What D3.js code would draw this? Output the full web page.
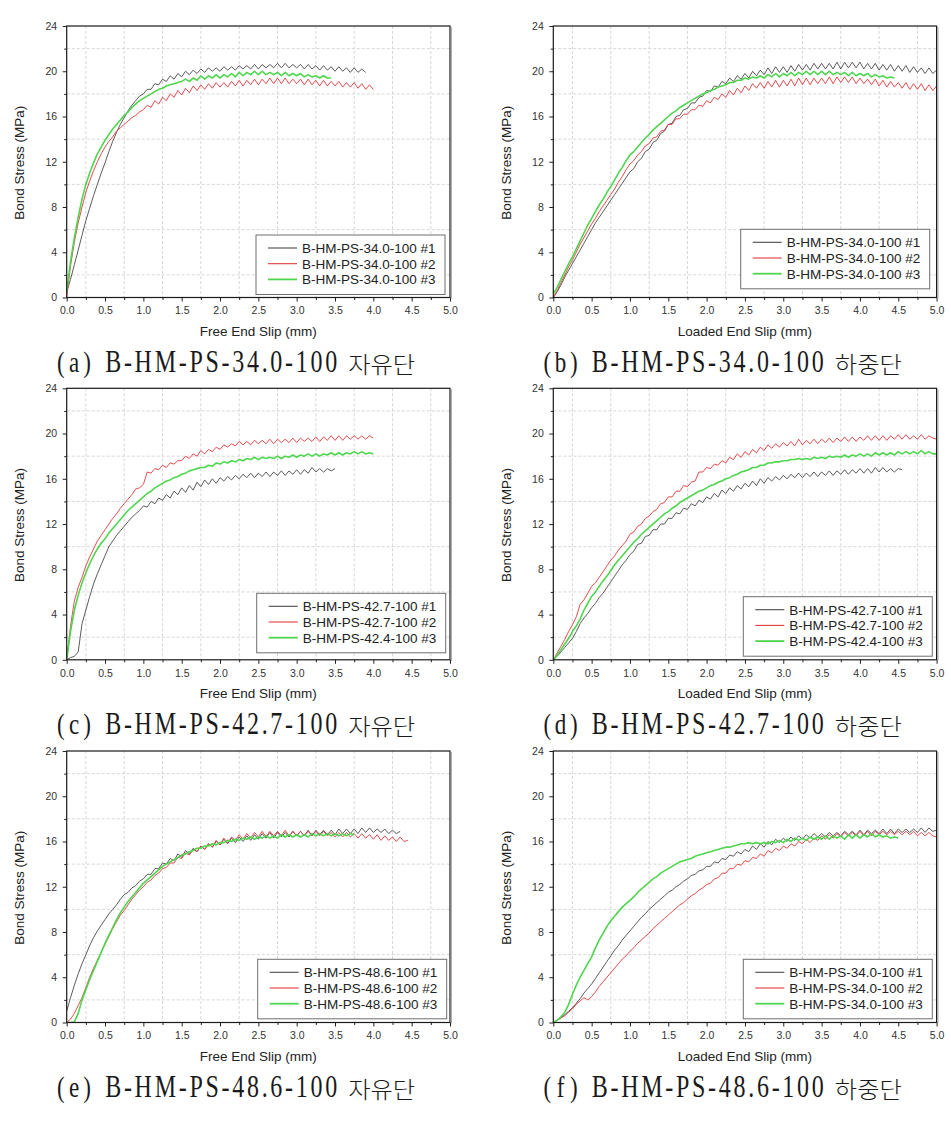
<!DOCTYPE html>
<html><head><meta charset="utf-8">
<script src="https://cdn.jsdelivr.net/npm/d3@7"></script>
<style>body{margin:0;background:#fff}svg{display:block}</style>
</head><body><svg id="c" width="951" height="1122"></svg>
<script>
const STEP = 0.05;
const xMajor = [0,0.5,1,1.5,2,2.5,3,3.5,4,4.5,5];
const xMinor = [0.25,0.75,1.25,1.75,2.25,2.75,3.25,3.75,4.25,4.75];
const yMajor = [0,4,8,12,16,20,24];
const yMinor = [2,6,10,14,18,22];
const legend340 = ["B-HM-PS-34.0-100 #1","B-HM-PS-34.0-100 #2","B-HM-PS-34.0-100 #3"];
const legend427 = ["B-HM-PS-42.7-100 #1","B-HM-PS-42.7-100 #2","B-HM-PS-42.4-100 #3"];
const legend486 = ["B-HM-PS-48.6-100 #1","B-HM-PS-48.6-100 #2","B-HM-PS-48.6-100 #3"];

// (a) free end 34.0
const sa1 = [0.5,1.6,2.9,4.2,5.5,6.8,7.9,9.0,10.0,11.0,11.9,12.9,13.8,14.6,15.3,15.9,16.5,17.0,17.4,17.8,18.0,18.4,18.4,18.9,18.8,19.3,19.1,19.6,19.3,19.8,19.5,20.0,19.7,20.1,19.8,20.2,19.9,20.3,20.0,20.3,20.0,20.4,20.1,20.4,20.1,20.5,20.2,20.5,20.2,20.6,20.2,20.6,20.3,20.6,20.3,20.7,20.3,20.7,20.3,20.6,20.3,20.6,20.2,20.6,20.2,20.5,20.1,20.5,20.1,20.4,20.0,20.4,20.0,20.3,19.9,20.3,19.9,20.2,19.9];
const sa2 = [0,2.8,4.9,6.6,8.0,9.3,10.3,11.2,12.0,12.7,13.3,13.8,14.2,14.7,15.0,15.3,15.6,15.9,16.1,16.4,16.6,17.0,16.8,17.4,17.1,17.7,17.4,18.0,17.7,18.3,17.9,18.5,18.1,18.7,18.3,18.8,18.4,18.9,18.5,19.0,18.6,19.0,18.6,19.1,18.7,19.2,18.7,19.2,18.8,19.3,18.8,19.3,18.9,19.4,18.9,19.4,18.9,19.4,18.9,19.3,18.9,19.3,18.8,19.3,18.8,19.2,18.7,19.2,18.7,19.1,18.7,19.1,18.6,19.0,18.6,19.0,18.5,18.9,18.4,18.8,18.4];
const sa3 = [0.5,3.2,5.3,7.1,8.7,10.0,11.0,11.9,12.7,13.3,13.9,14.4,14.9,15.3,15.7,16.1,16.4,16.8,17.1,17.4,17.6,17.8,18.0,18.2,18.4,18.5,18.7,18.8,18.9,19.0,19.1,19.3,19.1,19.4,19.2,19.6,19.3,19.6,19.4,19.7,19.4,19.7,19.5,19.8,19.5,19.9,19.6,19.9,19.7,20.0,19.7,20.0,19.7,19.9,19.7,19.9,19.6,19.9,19.6,19.8,19.6,19.8,19.5,19.7,19.5,19.6,19.4,19.6,19.4,19.4];
// (b) loaded end 34.0
const sb1 = [0,0.5,1.1,1.8,2.4,3.0,3.6,4.2,4.8,5.4,6.0,6.6,7.1,7.6,8.1,8.6,9.1,9.6,10.1,10.6,11.1,11.4,12.0,12.3,12.9,13.1,13.7,13.9,14.5,14.7,15.3,15.4,16.0,16.1,16.6,16.7,17.2,17.2,17.7,17.8,18.3,18.2,18.7,18.6,19.1,18.9,19.4,19.1,19.6,19.3,19.8,19.4,20.0,19.6,20.1,19.7,20.3,19.8,20.4,19.9,20.4,19.9,20.5,20.0,20.6,20.1,20.6,20.1,20.7,20.2,20.7,20.2,20.7,20.2,20.8,20.2,20.8,20.3,20.8,20.3,20.8,20.2,20.7,20.2,20.7,20.1,20.6,20.1,20.6,20.0,20.5,20.0,20.5,19.9,20.4,19.9,20.3,19.8,20.3,19.8,20.1];
const sb2 = [0,0.6,1.3,2.0,2.7,3.3,4.0,4.7,5.3,5.9,6.5,7.0,7.6,8.1,8.6,9.1,9.6,10.2,10.7,11.3,11.8,12.1,12.6,12.9,13.4,13.6,14.1,14.2,14.7,14.8,15.3,15.3,15.8,15.8,16.2,16.2,16.6,16.6,17.0,16.9,17.4,17.2,17.7,17.5,18.0,17.7,18.3,17.9,18.5,18.1,18.7,18.3,18.9,18.5,19.0,18.5,19.1,18.6,19.2,18.6,19.2,18.7,19.3,18.7,19.4,18.8,19.4,18.8,19.4,18.9,19.4,18.9,19.5,18.9,19.5,19.0,19.5,19.0,19.5,18.9,19.4,18.9,19.3,18.8,19.3,18.7,19.2,18.6,19.1,18.6,19.0,18.5,19.0,18.4,18.9,18.4,18.9,18.3,18.8,18.3,18.7];
const sb3 = [0.3,0.9,1.6,2.3,3.0,3.6,4.3,5.0,5.7,6.4,7.0,7.6,8.2,8.7,9.3,9.8,10.4,11.0,11.5,12.1,12.6,12.9,13.3,13.7,14.1,14.4,14.8,15.1,15.4,15.7,16.0,16.3,16.5,16.8,17.0,17.2,17.4,17.6,17.8,18.0,18.1,18.3,18.4,18.6,18.7,18.8,19.0,19.0,19.2,19.2,19.4,19.3,19.5,19.4,19.6,19.4,19.7,19.5,19.8,19.5,19.8,19.6,19.9,19.6,19.9,19.7,20.0,19.7,20.0,19.7,20.0,19.7,20.0,19.7,19.9,19.7,19.9,19.6,19.9,19.6,19.8,19.6,19.8,19.5,19.7,19.5,19.6,19.4,19.5,19.4];
// (c) free end 42.7
const sc1 = [0,0.2,0.3,0.7,3.2,4.4,5.6,6.7,7.6,8.4,9.2,10.0,10.5,11.0,11.4,11.8,12.2,12.6,12.9,13.2,13.6,13.5,14.0,13.8,14.3,14.1,14.6,14.3,14.9,14.6,15.2,14.8,15.4,15.0,15.7,15.3,15.9,15.5,16.0,15.6,16.1,15.8,16.2,15.9,16.3,16.0,16.4,16.1,16.5,16.1,16.5,16.2,16.6,16.2,16.6,16.3,16.7,16.3,16.7,16.4,16.8,16.4,16.8,16.5,17.0,16.6,16.9,16.6,16.9,16.7,16.9];
const sc2 = [0,3.0,5.2,6.4,7.3,8.3,9.1,9.8,10.5,11.0,11.5,12.0,12.5,12.9,13.4,13.8,14.2,14.6,15.1,15.2,15.5,16.6,16.5,16.9,16.8,17.2,17.0,17.4,17.3,17.6,17.6,18.0,17.8,18.2,18.0,18.5,18.2,18.6,18.4,18.8,18.6,19.0,18.8,19.1,18.9,19.3,19.0,19.3,19.0,19.4,19.1,19.4,19.1,19.5,19.1,19.5,19.2,19.5,19.2,19.6,19.2,19.6,19.3,19.6,19.3,19.7,19.3,19.7,19.4,19.8,19.4,19.8,19.4,19.8,19.5,19.8,19.5,19.8,19.5,19.8,19.6];
const sc3 = [0,2.5,4.4,5.7,6.8,7.7,8.5,9.2,9.8,10.3,10.7,11.2,11.6,12.0,12.4,12.8,13.2,13.5,13.8,14.1,14.4,14.7,14.9,15.2,15.4,15.6,15.8,15.9,16.1,16.2,16.4,16.5,16.7,16.8,16.9,17.0,17.0,17.2,17.1,17.4,17.3,17.5,17.4,17.6,17.5,17.7,17.6,17.8,17.7,17.9,17.7,17.9,17.8,17.9,17.8,18.0,17.8,18.0,17.9,18.1,17.9,18.1,18.0,18.2,18.0,18.2,18.0,18.2,18.1,18.3,18.1,18.3,18.1,18.3,18.2,18.4,18.2,18.4,18.2,18.3,18.2];
// (d) loaded end 42.7
const sd1 = [0,0.3,0.7,1.1,1.5,1.9,2.5,3.2,3.7,4.1,4.6,5.0,5.5,5.9,6.4,6.9,7.4,7.9,8.4,8.8,9.3,9.6,10.2,10.3,10.9,11.0,11.5,11.5,12.0,12.0,12.5,12.5,13.0,12.9,13.4,13.3,13.8,13.6,14.1,13.9,14.4,14.2,14.7,14.4,15.0,14.7,15.2,14.9,15.4,15.1,15.6,15.3,15.8,15.4,16.0,15.6,16.1,15.8,16.2,15.9,16.3,16.0,16.4,16.1,16.5,16.1,16.5,16.2,16.6,16.2,16.6,16.3,16.7,16.3,16.7,16.4,16.8,16.4,16.8,16.5,16.9,16.5,16.9,16.5,17.0,16.6,17.0,16.6,16.9,16.6,16.9,16.8];
const sd2 = [0,0.6,1.2,1.8,2.5,3.1,3.8,4.9,5.3,5.9,6.5,6.8,7.3,7.8,8.3,8.8,9.2,9.7,10.1,10.5,11.1,11.3,11.8,12.0,12.5,12.7,13.1,13.3,13.8,13.9,14.4,14.4,14.9,14.9,15.4,15.3,15.7,15.8,16.6,16.6,17.0,16.9,17.3,17.2,17.6,17.4,17.9,17.7,18.2,17.9,18.4,18.1,18.6,18.3,18.8,18.5,19.0,18.7,19.1,18.8,19.2,18.9,19.3,18.9,19.5,19.0,19.4,19.1,19.5,19.1,19.5,19.2,19.6,19.2,19.6,19.3,19.7,19.3,19.7,19.3,19.7,19.4,19.8,19.4,19.8,19.4,19.8,19.4,19.8,19.5,19.9,19.5,19.9,19.5,19.8,19.5,19.9,19.5,19.8,19.6,19.5];
const sd3 = [0,0.4,0.9,1.4,1.9,2.5,3.0,3.6,4.4,5.0,5.6,6.0,6.5,7.0,7.4,7.9,8.4,8.8,9.2,9.6,10.0,10.4,10.7,11.1,11.4,11.7,12.0,12.3,12.6,12.9,13.1,13.4,13.6,13.9,14.1,14.3,14.5,14.7,14.9,15.0,15.2,15.4,15.5,15.7,15.8,16.0,16.1,16.3,16.4,16.6,16.7,16.8,17.0,17.0,17.2,17.2,17.4,17.4,17.5,17.5,17.6,17.6,17.7,17.7,17.8,17.7,17.8,17.7,17.9,17.8,17.9,17.8,18.0,17.9,18.0,17.9,18.1,17.9,18.1,18.0,18.2,18.0,18.2,18.0,18.3,18.1,18.3,18.1,18.3,18.1,18.4,18.2,18.4,18.2,18.4,18.2,18.5,18.2,18.4,18.2,18.2];
// (e) free end 48.6
const se1 = [1.0,2.2,3.3,4.3,5.2,6.0,6.8,7.5,8.1,8.6,9.1,9.6,10.0,10.4,10.9,11.3,11.5,11.9,12.1,12.5,12.7,13.1,13.1,13.6,13.6,14.1,14.0,14.5,14.3,14.9,14.6,15.2,14.9,15.4,15.1,15.6,15.3,15.8,15.5,16.0,15.7,16.2,15.8,16.3,15.9,16.4,16.0,16.5,16.1,16.6,16.2,16.7,16.3,16.8,16.3,16.8,16.4,16.8,16.4,16.9,16.5,16.9,16.5,17.0,16.5,17.0,16.6,17.0,16.6,17.0,16.6,17.1,16.7,17.1,16.7,17.1,16.7,17.2,16.8,17.2,16.8,17.1,16.8,17.1,16.7,17.0,16.7,16.9];
const se2 = [0,0.3,0.8,1.5,2.2,3.1,4.0,4.8,5.5,6.2,6.9,7.6,8.3,8.9,9.5,9.9,10.4,10.9,11.3,11.7,12.0,12.4,12.6,13.0,13.2,13.6,13.7,14.1,14.1,14.6,14.5,15.0,14.8,15.3,15.1,15.6,15.3,15.8,15.5,16.1,15.7,16.3,15.9,16.4,16.1,16.6,16.2,16.7,16.3,16.8,16.4,16.9,16.4,16.9,16.5,16.9,16.5,17.0,16.5,16.9,16.5,16.9,16.5,16.9,16.5,16.9,16.5,16.9,16.5,16.8,16.4,16.8,16.4,16.8,16.4,16.7,16.3,16.7,16.3,16.6,16.2,16.6,16.1,16.5,16.1,16.4,16.0,16.4,16.0,16.1];
const se3 = [0,0,0.05,0.8,2.0,2.9,3.8,4.6,5.4,6.2,7.0,7.7,8.4,9.1,9.7,10.2,10.7,11.1,11.5,11.9,12.3,12.6,12.9,13.2,13.5,13.8,14.0,14.2,14.4,14.6,14.8,14.9,15.1,15.2,15.4,15.4,15.6,15.6,15.8,15.7,15.9,15.9,16.1,16.0,16.2,16.1,16.3,16.2,16.4,16.2,16.4,16.3,16.5,16.3,16.5,16.3,16.6,16.4,16.6,16.4,16.6,16.4,16.6,16.4,16.7,16.5,16.7,16.5,16.7,16.5,16.7,16.5,16.7,16.5,16.7,16.6];
// (f) loaded end 48.6
const sf1 = [0,0.2,0.4,0.7,1.0,1.3,1.7,2.1,2.6,3.0,3.4,3.9,4.4,4.9,5.4,5.9,6.4,6.8,7.3,7.7,8.1,8.5,8.9,9.3,9.6,10.0,10.3,10.6,10.9,11.2,11.5,11.7,12.0,12.2,12.5,12.7,13.0,13.1,13.4,13.5,13.8,13.8,14.2,14.1,14.5,14.4,14.8,14.7,15.1,14.9,15.3,15.1,15.6,15.3,15.8,15.5,16.0,15.7,16.2,15.9,16.3,16.0,16.4,16.1,16.5,16.2,16.6,16.3,16.7,16.4,16.7,16.4,16.8,16.5,16.8,16.5,16.9,16.6,16.9,16.6,17.0,16.6,17.0,16.7,17.0,16.7,17.1,16.7,17.1,16.7,17.1,16.8,17.1,16.8,17.1,16.8,17.2,16.8,17.2,16.9,17.0];
const sf2 = [0,0.2,0.4,0.6,0.9,1.2,1.6,1.9,2.2,2.0,2.3,2.7,3.2,3.6,4.0,4.4,4.8,5.2,5.6,5.9,6.3,6.6,7.0,7.3,7.6,7.9,8.3,8.6,8.9,9.2,9.5,9.8,10.1,10.4,10.6,10.9,11.2,11.4,11.7,11.9,12.2,12.3,12.7,12.8,13.2,13.2,13.6,13.6,14.0,13.9,14.3,14.2,14.6,14.5,14.9,14.7,15.2,15.0,15.4,15.2,15.6,15.4,15.8,15.6,16.0,15.8,16.2,15.9,16.3,16.1,16.5,16.2,16.6,16.3,16.7,16.4,16.8,16.5,16.8,16.5,16.9,16.5,16.9,16.5,16.9,16.6,16.9,16.6,16.9,16.6,16.9,16.6,16.9,16.6,16.9,16.5,16.8,16.5,16.8,16.5,16.4];
const sf3 = [0,0.2,0.5,0.9,1.6,2.5,3.3,4.0,4.6,5.2,5.8,6.6,7.3,7.9,8.5,9.0,9.4,9.8,10.2,10.5,10.8,11.1,11.5,11.8,12.1,12.4,12.7,12.9,13.2,13.4,13.6,13.8,14.0,14.2,14.3,14.4,14.5,14.7,14.8,14.9,15.0,15.1,15.2,15.3,15.4,15.5,15.5,15.6,15.7,15.8,15.8,15.9,15.8,15.9,15.8,15.9,15.8,16.0,15.9,16.1,15.9,16.2,16.0,16.3,16.1,16.3,16.1,16.4,16.2,16.4,16.2,16.5,16.2,16.5,16.3,16.5,16.2,16.6,16.3,16.6,16.3,16.6,16.4,16.7,16.4,16.6,16.4,16.5,16.3,16.4,16.3];

const colors = ["#4a4a4a","#e0393b","#4fd64f"];
const widths = [0.9,0.9,1.6];

const panels = [
  {col:0,row:0,xTitle:"Free End Slip (mm)",series:[sa1,sa2,sa3],labels:legend340,cap:["(a)","B-HM-PS-34.0-100","자유단"],lg:[189.3,209]},
  {col:1,row:0,xTitle:"Loaded End Slip (mm)",series:[sb1,sb2,sb3],labels:legend340,cap:["(b)","B-HM-PS-34.0-100","하중단"],lg:[187.4,203.3]},
  {col:0,row:1,xTitle:"Free End Slip (mm)",series:[sc1,sc2,sc3],labels:legend427,cap:["(c)","B-HM-PS-42.7-100","자유단"],lg:[190,205]},
  {col:1,row:1,xTitle:"Loaded End Slip (mm)",series:[sd1,sd2,sd3],labels:legend427,cap:["(d)","B-HM-PS-42.7-100","하중단"],lg:[190,208.4]},
  {col:0,row:2,xTitle:"Free End Slip (mm)",series:[se1,se2,se3],labels:legend486,cap:["(e)","B-HM-PS-48.6-100","자유단"],lg:[191,208.3]},
  {col:1,row:2,xTitle:"Loaded End Slip (mm)",series:[sf1,sf2,sf3],labels:legend340,cap:["(f)","B-HM-PS-48.6-100","하중단"],lg:[190,208.3]}
];

const colX = [66.7, 553.3];
const rowY = [26, 388.3, 751];
const W = 383.3, H = 271.5;
const svg = d3.select("#c");
const SANS = "'Liberation Sans', Arial, sans-serif";
const SERIF = "'Liberation Serif', 'DejaVu Serif', serif";

panels.forEach(p => {
  const L = colX[p.col], T = rowY[p.row], B = T + H, R = L + W;
  const x = d3.scaleLinear().domain([0,5]).range([L,R]);
  const y = d3.scaleLinear().domain([0,24]).range([B,T]);
  const g = svg.append("g");

  g.append("g").selectAll("line").data(xMinor).join("line")
    .attr("x1",d=>x(d)).attr("x2",d=>x(d)).attr("y1",T).attr("y2",B)
    .attr("stroke","#d2d2d2").attr("stroke-width",0.9).attr("stroke-dasharray","3,2");
  g.append("g").selectAll("line").data(yMinor).join("line")
    .attr("x1",L).attr("x2",R).attr("y1",d=>y(d)).attr("y2",d=>y(d))
    .attr("stroke","#d2d2d2").attr("stroke-width",0.9).attr("stroke-dasharray","3,2");

  const ax = g.append("g").attr("transform",`translate(0,${B})`)
    .call(d3.axisBottom(x).tickValues(xMajor).tickFormat(d3.format(".1f")).tickSize(4).tickPadding(5.5).tickSizeOuter(0));
  const axm = g.append("g").attr("transform",`translate(0,${B})`)
    .call(d3.axisBottom(x).tickValues(xMinor).tickFormat("").tickSize(2.5).tickSizeOuter(0));
  const ay = g.append("g").attr("transform",`translate(${L},0)`)
    .call(d3.axisLeft(y).tickValues(yMajor).tickFormat(d3.format("d")).tickSize(4).tickPadding(5.5).tickSizeOuter(0));
  const aym = g.append("g").attr("transform",`translate(${L},0)`)
    .call(d3.axisLeft(y).tickValues(yMinor).tickFormat("").tickSize(2.5).tickSizeOuter(0));
  [ax,axm,ay,aym].forEach(a=>{
    a.select(".domain").remove();
    a.selectAll("line").attr("stroke","#222").attr("stroke-width",1);
    a.selectAll("text").attr("font-family",SANS).attr("font-size",10.5).attr("fill","#333");
  });

  const clipId = "clip"+p.col+p.row;
  svg.append("clipPath").attr("id",clipId).append("rect").attr("x",L).attr("y",T).attr("width",W).attr("height",H);
  const line = d3.line().x((d,i)=>x(i*STEP)).y(d=>y(d));
  p.series.forEach((s,i)=>{
    g.append("path").datum(s).attr("d",line).attr("fill","none")
      .attr("stroke",colors[i]).attr("stroke-width",widths[i]).attr("stroke-linejoin","round")
      .attr("clip-path",`url(#${clipId})`);
  });

  g.append("rect").attr("x",L).attr("y",T).attr("width",W).attr("height",H)
    .attr("fill","none").attr("stroke","#1a1a1a").attr("stroke-width",1.2);
  g.append("line").attr("x1",R+1.3).attr("x2",R+1.3).attr("y1",T+1).attr("y2",B+1)
    .attr("stroke","#9a9a9a").attr("stroke-width",1);

  g.append("text").attr("x",(L+R)/2).attr("y",B+38).attr("text-anchor","middle")
    .attr("font-family",SANS).attr("font-size",13.5).attr("fill","#222").text(p.xTitle);
  g.append("text").attr("transform",`translate(${L-47},${(T+B)/2+1}) rotate(-90)`)
    .attr("text-anchor","middle").attr("dy","0.35em")
    .attr("font-family",SANS).attr("font-size",13.5).attr("fill","#222").text("Bond Stress (MPa)");

  const lx = L + p.lg[0], ly = T + p.lg[1];
  const lg = g.append("g");
  lg.append("rect").attr("x",lx).attr("y",ly).attr("width",189).attr("height",59.5)
    .attr("fill","#fff").attr("stroke","#6e6e6e").attr("stroke-width",1);
  p.labels.forEach((lab,i)=>{
    const cy = ly + 13 + i*15.7;
    lg.append("line").attr("x1",lx+12).attr("x2",lx+41).attr("y1",cy).attr("y2",cy)
      .attr("stroke",colors[i]).attr("stroke-width",widths[i]+0.2);
    lg.append("text").attr("x",lx+46).attr("y",cy+4.8)
      .attr("font-family",SANS).attr("font-size",13.5).attr("fill","#222").text(lab);
  });

  // caption (thin, tall serif like Batang)
  const cb = B + 74;
  const cap = g.append("g").attr("fill","#1a1a1a");
  cap.append("g").attr("transform",`translate(${L-9.7},${cb}) scale(1,1.3)`)
    .append("text").attr("font-family",SERIF).attr("font-size",23)
    .attr("textLength",34).attr("lengthAdjust","spacing").text(p.cap[0]);
  cap.append("g").attr("transform",`translate(${L+38.5},${cb}) scale(1,1.3)`)
    .append("text").attr("font-family",SERIF).attr("font-size",24)
    .attr("textLength",232).attr("lengthAdjust","spacing").text(p.cap[1]);
  cap.append("text").attr("x",L+281.5).attr("y",cb+1).attr("font-family","'Noto Sans CJK KR', sans-serif")
    .attr("font-weight",300).attr("font-size",23).attr("textLength",67).attr("lengthAdjust","spacingAndGlyphs").text(p.cap[2]);
});
</script></body></html>
